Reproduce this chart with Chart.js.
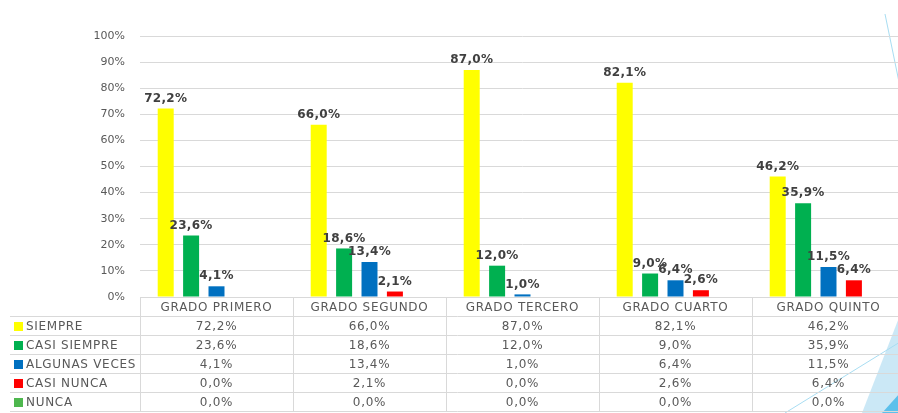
<!DOCTYPE html>
<html>
<head>
<meta charset="utf-8">
<script src="https://cdn.jsdelivr.net/npm/chart.js@4.4.1/dist/chart.umd.min.js"></script>
<style>
  html, body { margin: 0; padding: 0; overflow: hidden; background: #fff; }
  #wrap { width: 898px; height: 413px; overflow: hidden; }
</style>
</head>
<body>
<div id="wrap"><canvas id="gradosChart" width="910" height="413"></canvas></div>
<script>
// categories and series
const grados = ['GRADO PRIMERO', 'GRADO SEGUNDO', 'GRADO TERCERO', 'GRADO CUARTO', 'GRADO QUINTO'];
const seriesNames = ['SIEMPRE', 'CASI SIEMPRE', 'ALGUNAS VECES', 'CASI NUNCA', 'NUNCA'];
const siempre = [72.2, 66.0, 87.0, 82.1, 46.2];
const casiSiempre = [23.6, 18.6, 12.0, 9.0, 35.9];
const algunasVeces = [4.1, 13.4, 1.0, 6.4, 11.5];
const casiNunca = [0.0, 2.1, 0.0, 2.6, 6.4];
const nunca = [0.0, 0.0, 0.0, 0.0, 0.0];
const yTicks = [0, 10, 20, 30, 40, 50, 60, 70, 80, 90, 100];

const colores = ['#FFFF00', '#00B050', '#0070C0', '#FF0000', '#4EB74E'];
const valores = [siempre, casiSiempre, algunasVeces, casiNunca, nunca];
const textGray = '#595959';
const lineGray = '#D9D9D9';
const FONT = '"DejaVu Sans", Verdana, sans-serif';

function pct(v) {
    return v.toFixed(1).replace('.', ',') + '%';
}

// background decoration of the slide (light blue strokes on the right)
const slideBg = {
    id: 'slideBg',
    beforeDraw(chart) {
        const ctx = chart.ctx;
        ctx.save();
        ctx.fillStyle = '#ffffff';
        ctx.fillRect(0, 0, chart.width, chart.height);
        ctx.fillStyle = 'rgba(140, 205, 235, 0.45)';
        ctx.beginPath();
        ctx.moveTo(862, 413);
        ctx.lineTo(900, 315);
        ctx.lineTo(900, 413);
        ctx.closePath();
        ctx.fill();
        ctx.fillStyle = '#5BC0EB';
        ctx.beginPath();
        ctx.moveTo(882, 413);
        ctx.lineTo(900, 393);
        ctx.lineTo(900, 413);
        ctx.closePath();
        ctx.fill();
        ctx.strokeStyle = '#A8DDF2';
        ctx.lineWidth = 1;
        ctx.beginPath();
        ctx.moveTo(785, 413);
        ctx.lineTo(900, 342);
        ctx.moveTo(885, 14);
        ctx.lineTo(899, 82);
        ctx.stroke();
        ctx.restore();
    }
};

// value labels above bars
const barLabels = {
    id: 'barLabels',
    afterDatasetsDraw(chart) {
        const ctx = chart.ctx;
        ctx.save();
        ctx.font = 'bold 12px ' + FONT;
        ctx.letterSpacing = '0.3px';
        ctx.fillStyle = '#404040';
        ctx.textAlign = 'center';
        ctx.textBaseline = 'bottom';
        chart.data.datasets.forEach((ds, di) => {
            chart.getDatasetMeta(di).data.forEach((bar, i) => {
                const v = ds.data[i];
                if (!v) return;
                ctx.fillText(pct(v), bar.x, bar.y - 4);
            });
        });
        ctx.restore();
    }
};

// data table under the plot
const dataTable = {
    id: 'dataTable',
    afterDraw(chart) {
        const ctx = chart.ctx;
        const area = chart.chartArea;
        const x = chart.scales.x;
        const top = area.bottom;
        const headH = 19;
        const rowH = 19;
        const tableLeft = 10;
        const n = grados.length;
        const colW = (area.right - area.left) / n;
        const bottom = top + headH + rowH * seriesNames.length;

        ctx.save();
        ctx.strokeStyle = lineGray;
        ctx.lineWidth = 1;
        ctx.beginPath();
        // top line (only over the data columns)
        ctx.moveTo(area.left, top + 0.5);
        ctx.lineTo(area.right, top + 0.5);
        for (let r = 0; r <= seriesNames.length; r++) {
            const y = Math.round(top + headH + r * rowH) + 0.5;
            ctx.moveTo(tableLeft, y);
            ctx.lineTo(area.right, y);
        }
        for (let c = 0; c <= n; c++) {
            const xx = Math.round(area.left + c * colW) + 0.5;
            ctx.moveTo(xx, top);
            ctx.lineTo(xx, bottom);
        }
        ctx.stroke();

        ctx.font = '12px ' + FONT;
        ctx.letterSpacing = '0.7px';
        ctx.fillStyle = textGray;
        ctx.textBaseline = 'middle';
        ctx.textAlign = 'center';
        grados.forEach((g, i) => {
            ctx.fillText(g, x.getPixelForValue(i), top + headH / 2 + 1);
        });

        seriesNames.forEach((name, r) => {
            const cy = top + headH + r * rowH + rowH / 2 + 1;
            ctx.fillStyle = colores[r];
            ctx.fillRect(14, Math.round(cy - 5), 9, 9);
            ctx.fillStyle = textGray;
            ctx.textAlign = 'left';
            ctx.fillText(name, 26, cy);
            ctx.textAlign = 'center';
            valores[r].forEach((v, i) => {
                ctx.fillText(pct(v), x.getPixelForValue(i), cy);
            });
        });
        ctx.restore();
    }
};

const ctx = document.getElementById('gradosChart').getContext('2d');

new Chart(ctx, {
    type: 'bar',
    data: {
        labels: grados,
        datasets: seriesNames.map((name, i) => ({
            label: name,
            data: valores[i],
            backgroundColor: colores[i],
            borderWidth: 0,
            categoryPercentage: 0.83,
            barPercentage: 0.63
        }))
    },
    options: {
        responsive: false,
        animation: false,
        devicePixelRatio: 1,
        layout: {
            padding: { top: 36, right: 5, bottom: 116, left: 0 }
        },
        plugins: {
            legend: { display: false },
            tooltip: { enabled: false }
        },
        scales: {
            x: {
                display: false
            },
            y: {
                min: 0,
                max: 100,
                afterFit(scale) { scale.width = 140; },
                afterBuildTicks(scale) { scale.ticks = yTicks.map(v => ({ value: v })); },
                border: { display: false },
                grid: { color: lineGray, lineWidth: 1, drawTicks: false },
                ticks: {
                    padding: 15,
                    color: textGray,
                    font: { family: FONT, size: 11 },
                    callback: v => v + '%'
                }
            }
        }
    },
    plugins: [slideBg, barLabels, dataTable]
});
</script>
</body>
</html>
